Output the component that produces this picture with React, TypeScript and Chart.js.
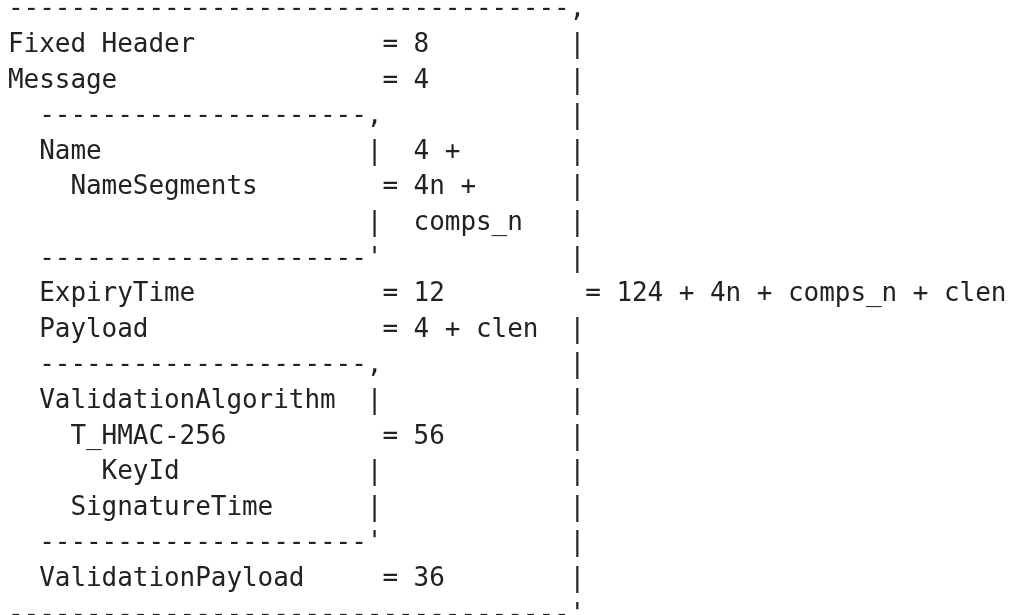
import React, { useEffect, useRef } from "react";
import { Chart, registerables } from "chart.js";

Chart.register(...registerables);

// Each row: list of [column, text] segments (monospace grid)
const row0: [number, string][] = [[0, "------------------------------------,"]];
const row1: [number, string][] = [[0, "Fixed Header"], [24, "= 8"], [36, "|"]];
const row2: [number, string][] = [[0, "Message"], [24, "= 4"], [36, "|"]];
const row3: [number, string][] = [[2, "---------------------,"], [36, "|"]];
const row4: [number, string][] = [[2, "Name"], [23, "|"], [26, "4 +"], [36, "|"]];
const row5: [number, string][] = [[4, "NameSegments"], [24, "= 4n +"], [36, "|"]];
const row6: [number, string][] = [[23, "|"], [26, "comps_n"], [36, "|"]];
const row7: [number, string][] = [[2, "---------------------'"], [36, "|"]];
const row8: [number, string][] = [[2, "ExpiryTime"], [24, "= 12"], [37, "= 124 + 4n + comps_n + clen"]];
const row9: [number, string][] = [[2, "Payload"], [24, "= 4 + clen"], [36, "|"]];
const row10: [number, string][] = [[2, "---------------------,"], [36, "|"]];
const row11: [number, string][] = [[2, "ValidationAlgorithm"], [23, "|"], [36, "|"]];
const row12: [number, string][] = [[4, "T_HMAC-256"], [24, "= 56"], [36, "|"]];
const row13: [number, string][] = [[6, "KeyId"], [23, "|"], [36, "|"]];
const row14: [number, string][] = [[4, "SignatureTime"], [23, "|"], [36, "|"]];
const row15: [number, string][] = [[2, "---------------------'"], [36, "|"]];
const row16: [number, string][] = [[2, "ValidationPayload"], [24, "= 36"], [36, "|"]];
const row17: [number, string][] = [[0, "------------------------------------'"]];

const rows = [row0, row1, row2, row3, row4, row5, row6, row7, row8, row9, row10, row11, row12, row13, row14, row15, row16, row17];

const W = 1012;
const H = 615;
const CHAR_W = 15.6;
const LINE_H = 35.6;
const LEFT = 8;
const FIRST_BASELINE = 16.4;

const textPlugin = {
  id: "asciiText",
  afterDraw(chart: any) {
    const { ctx, scales } = chart;
    const xs = scales.x;
    const ys = scales.y;
    ctx.save();
    ctx.font = '26px "DejaVu Sans Mono"';
    ctx.fillStyle = "#222222";
    ctx.textAlign = "left";
    ctx.textBaseline = "alphabetic";
    rows.forEach((segs, li) => {
      const y = ys.getPixelForValue(li);
      segs.forEach(([col, text]) => {
        for (let i = 0; i < text.length; i++) {
          const ch = text[i];
          if (ch === " ") continue;
          ctx.fillText(ch, xs.getPixelForValue(col + i), y);
        }
      });
    });
    ctx.restore();
  },
};

export default function App() {
  const ref = useRef<HTMLCanvasElement>(null);
  useEffect(() => {
    if (!ref.current) return;
    const xMin = -LEFT / CHAR_W;
    const xMax = xMin + W / CHAR_W;
    const yMin = -FIRST_BASELINE / LINE_H;
    const yMax = yMin + H / LINE_H;
    const chart = new Chart(ref.current, {
      type: "scatter",
      data: { datasets: [] },
      options: {
        animation: false,
        responsive: false,
        layout: { padding: 0 },
        plugins: { legend: { display: false }, tooltip: { enabled: false } },
        scales: {
          x: { type: "linear", display: false, min: xMin, max: xMax },
          y: { type: "linear", display: false, min: yMin, max: yMax, reverse: true },
        },
      },
      plugins: [textPlugin],
    });
    return () => chart.destroy();
  }, []);
  return (
    <div style={{ position: "absolute", left: 0, top: 0, width: W, height: H, background: "#fff" }}>
      <canvas ref={ref} width={W} height={H} style={{ display: "block", width: W, height: H }} />
    </div>
  );
}
